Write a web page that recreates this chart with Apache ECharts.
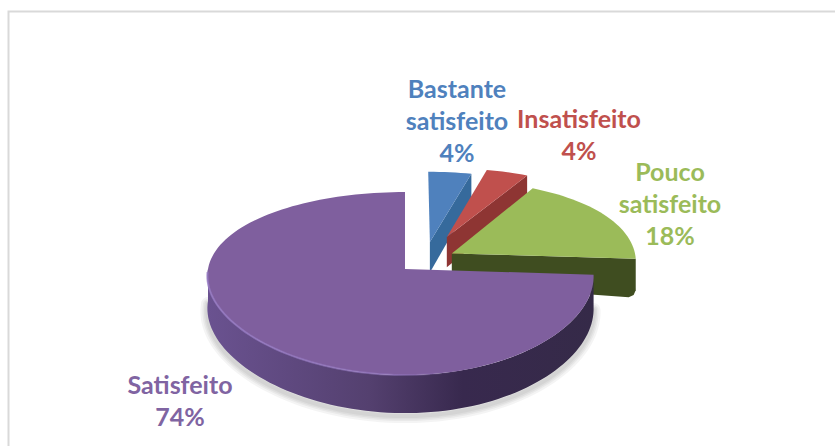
<!DOCTYPE html>
<html>
<head>
<meta charset="utf-8">
<style>
  html, body { margin: 0; padding: 0; background: #fff; }
  #chart { width: 835px; height: 446px; }
  #chart text { font-variant-ligatures: none; }
</style>
<script src="https://cdn.jsdelivr.net/npm/echarts@6/dist/echarts.min.js"></script>
</head>
<body>
<div id="chart"></div>
<script>
// chart values, clockwise from 12 o'clock
const categories = ['Bastante\nsatisfeito', 'Insatisfeito', 'Pouco\nsatisfeito', 'Satisfeito'];
const shares = [4, 4, 18, 74];

// slice colours: top face, wall, label
const topColors = ['#4f81bd', '#c0504d', '#9bbb59', '#7f5f9e'];
const wallColors = ['#366a9c', '#8e3533', '#3f4d20', '#5f4a80'];
const labelColors = ['#4f81bd', '#c0504d', '#9bbb59', '#8064a2'];

// how far each slice is pulled out of the pie, in pie radii
const explodeX = [0.133, 0.225, 0.248, 0];
const explodeY = [0.318, 0.381, 0.18, 0];
// extra depth of the cut wall at its outer end, and corner rounding
const wallExtra = [0, 0, 7, 0];
const wallRound = [0, 0, 7, 0];
const labelPos = [[457, 120], [579, 134], [670, 203], [180, 400]];

// projection of the tilted disc onto the page
const cx = 405, cy = 269, rx = 192.5, ry = 89.2, persp = 0.159, thick = 32;

function project(X, Y, down) {
  const d = 1 + persp * Y;
  return [
    cx + (rx * X - 4.5 * X * X) / Math.sqrt(d),
    cy - ry * Y / d + (down ? thick / d : 0)
  ];
}

function arcPoints(i, from, to, down) {
  const pts = [];
  const steps = Math.max(2, Math.ceil(Math.abs(to - from) / 2));
  for (let k = 0; k <= steps; k++) {
    const a = (from + (to - from) * k / steps) * Math.PI / 180;
    pts.push(project(explodeX[i] + Math.cos(a), explodeY[i] + Math.sin(a), down));
  }
  return pts;
}

const total = shares.reduce((a, b) => a + b, 0);

function renderSlice(params, api) {
  const i = params.dataIndex;
  let before = 0;
  for (let k = 0; k < i; k++) before += shares[k];
  const start = 90 - before / total * 360;
  const end = start - api.value(1) / total * 360;
  const apex = project(explodeX[i], explodeY[i], false);
  const apexLow = project(explodeX[i], explodeY[i], true);
  const children = [];

  if (i === 3) {
    // purple: wall runs from the right end round the front to the left side
    const rim = arcPoints(i, start, -180, false);
    const low = arcPoints(i, start, -180, true);
    // soft shadow under the wall, svg renderer needs it built from strokes
    const shadow = low.map(p => [p[0], p[1] + 3]);
    [14, 10, 7, 4].forEach(w => {
      children.push({
        type: 'polyline',
        shape: { points: shadow },
        style: { fill: 'none', stroke: 'rgba(0,0,0,0.045)', lineWidth: w, lineCap: 'round' }
      });
    });
    children.push({
      type: 'polygon',
      shape: { points: rim.concat(low.slice().reverse()) },
      style: {
        fill: new echarts.graphic.LinearGradient(0, 0, 1, 0, [
          { offset: 0, color: '#6a5290' },
          { offset: 0.42, color: '#54406f' },
          { offset: 0.66, color: '#38294e' },
          { offset: 1, color: '#352a48' }
        ])
      }
    });
    const top = arcPoints(i, start, end, false);
    children.push({
      type: 'polygon',
      shape: { points: [apex].concat(top) },
      style: { fill: topColors[i] }
    });
    children.push({
      type: 'polyline',
      shape: { points: arcPoints(i, -178, -75, false) },
      style: {
        fill: 'none',
        lineWidth: 2,
        stroke: new echarts.graphic.LinearGradient(0, 0, 1, 0, [
          { offset: 0, color: 'rgba(150,122,195,0.8)' },
          { offset: 0.7, color: 'rgba(150,122,195,0.6)' },
          { offset: 1, color: 'rgba(150,122,195,0)' }
        ])
      }
    });
  } else {
    // cut face on the clockwise side, then the top
    const endTop = arcPoints(i, end, end, false)[0];
    const endLow = arcPoints(i, end, end, true)[0];
    const r = wallRound[i];
    const lowY = endLow[1] + wallExtra[i];
    const wall = [apex, endTop];
    if (r) {
      wall.push([endLow[0], lowY - r], [endLow[0] - r * 0.3, lowY - r * 0.3], [endLow[0] - r, lowY]);
    } else {
      wall.push(endLow);
    }
    wall.push(apexLow);
    children.push({
      type: 'polygon',
      shape: { points: wall },
      style: { fill: wallColors[i] }
    });
    const top = arcPoints(i, start, end, false);
    children.push({
      type: 'polygon',
      shape: { points: [apex].concat(top) },
      style: { fill: topColors[i] }
    });
  }

  // label text
  children.push({
    type: 'text',
    x: labelPos[i][0],
    y: labelPos[i][1],
    style: {
      text: api.value(2) + '\n' + api.value(1) + '%',
      fill: labelColors[i],
      font: 'bold 25px Lato',
      lineHeight: 32,
      align: 'center',
      verticalAlign: 'middle'
    }
  });
  return { type: 'group', children: children };
}

const chart = echarts.init(document.getElementById('chart'), null, { renderer: 'svg' });
chart.setOption({
  backgroundColor: '#fff',
  animation: false,
  graphic: [{
    type: 'polyline',
    shape: { points: [[8.5, 446], [8.5, 11.5], [835, 11.5]] },
    style: { fill: 'none', stroke: '#d9d9d9', lineWidth: 2 }
  }],
  series: [{
    type: 'custom',
    coordinateSystem: 'none',
    renderItem: renderSlice,
    data: categories.map((name, i) => [i, shares[i], name])
  }]
});
window.addEventListener('resize', () => chart.resize());
</script>
</body>
</html>
